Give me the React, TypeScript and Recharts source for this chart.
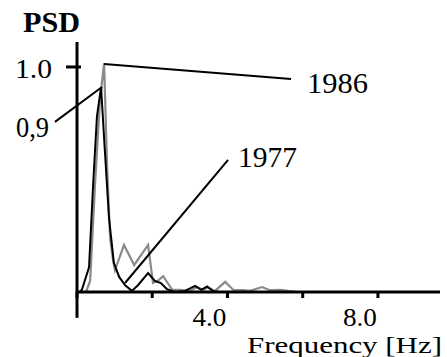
import React from 'react';
import {
  LineChart, Line, XAxis, YAxis, ReferenceLine, ReferenceDot, Label,
} from 'recharts';

// PSD spectra (frequency in Hz, normalised PSD)
const freq1986 = [0, 0.24, 0.35, 0.48, 0.61, 0.72, 0.8, 0.88, 0.96, 1.01, 1.25, 1.52, 1.89, 2.02, 2.15, 2.29, 2.53, 2.74, 3.0, 3.19, 3.35, 3.48, 3.67, 3.94, 4.15, 4.41, 4.6, 4.92, 5.13, 5.4, 5.61, 5.8];
const psd1986 = [0, 0, 0.05, 0.48, 0.85, 1.017, 0.56, 0.24, 0.14, 0.097, 0.209, 0.12, 0.209, 0.04, 0.05, 0.07, 0.01, 0.01, 0.005, 0.022, 0.01, 0.02, 0.005, 0.045, 0.01, 0.009, 0.005, 0.022, 0.008, 0.01, 0.005, 0.002];

const freq1977 = [0, 0.08, 0.13, 0.32, 0.43, 0.53, 0.64, 0.74, 0.85, 0.98, 1.12, 1.28, 1.46, 1.62, 1.89, 2.07, 2.23, 2.39, 2.61, 2.87, 3.14, 3.3, 3.46, 3.62, 3.8];
const psd1977 = [0, 0, 0.01, 0.11, 0.48, 0.78, 0.91, 0.63, 0.33, 0.13, 0.067, 0.03, 0.005, 0.03, 0.084, 0.049, 0.04, 0.013, 0, 0.005, 0.027, 0.01, 0.025, 0.003, 0];

const xTicks = [0, 2, 4, 6, 8];
const xTickLabels: Record<number, string> = { 4: '4.0', 8: '8.0' };
const yTicks = [1];
const yTickLabels: Record<number, string> = { 1: '1.0' };

const data1986 = freq1986.map((f, i) => ({ f, v: psd1986[i] }));
const data1977 = freq1977.map((f, i) => ({ f, v: psd1977[i] }));

const FONT = '"Liberation Serif", "Times New Roman", Tinos, serif';

const XTick = ({ x, payload }: any) => {
  const y = 292;
  const label = xTickLabels[payload.value];
  return (
    <g>
      <line x1={x} y1={y} x2={x} y2={y + 6} stroke="#000" strokeWidth={3} />
      {label && (
        <text x={x - 18} y={y + 34} textAnchor="middle" style={{ fontFamily: FONT }} fontSize={25}
          textLength={34} lengthAdjust="spacingAndGlyphs" fill="#000">
          {label}
        </text>
      )}
    </g>
  );
};

const YTick = ({ y, payload }: any) => {
  const x = 77;
  return (
    <g>
      <line x1={x - 11} y1={y} x2={x + 4} y2={y} stroke="#000" strokeWidth={3} />
      <text x={x - 62} y={y + 11} style={{ fontFamily: FONT }} fontSize={27}
        textLength={37} lengthAdjust="spacingAndGlyphs" fill="#000">
        {yTickLabels[payload.value]}
      </text>
    </g>
  );
};

const note = (txt: string, fs: number, w: number) => (p: any) => (
  <text x={p.cx} y={p.cy} style={{ fontFamily: FONT }} fontSize={fs} textLength={w}
    lengthAdjust="spacingAndGlyphs" fill="#000">
    {txt}
  </text>
);

const App: React.FC = () => {
  return (
    <div style={{ position: 'absolute', left: 0, top: 0, background: '#fff' }}>
      <LineChart width={447} height={357} margin={{ top: 42, right: 7, bottom: 64, left: 76 }}>
        <XAxis
          type="number" dataKey="f" domain={[0, 9.65]} ticks={xTicks} height={1}
          axisLine={{ stroke: '#000', strokeWidth: 3 }} tickLine={false} tickSize={0} tickMargin={0}
          tick={<XTick />} interval={0}
        >
          <Label content={() => (
            <text x={442} y={353} textAnchor="end"
              style={{ fontFamily: FONT }} fontSize={24} textLength={195} lengthAdjust="spacingAndGlyphs" fill="#000">
              Frequency [Hz]
            </text>
          )} />
        </XAxis>
        <YAxis
          type="number" domain={[0, 1.111]} ticks={yTicks} width={1}
          axisLine={{ stroke: '#000', strokeWidth: 3 }} tickLine={false} tickSize={0} tickMargin={0}
          tick={<YTick />} interval={0}
        >
          <Label content={() => (
            <text x={23} y={32} style={{ fontFamily: FONT }} fontSize={30}
              fontWeight="bold" textLength={57} lengthAdjust="spacingAndGlyphs" fill="#000">
              PSD
            </text>
          )} />
        </YAxis>

        {/* y axis runs on a little below the x axis */}
        <ReferenceLine segment={[{ x: 0, y: 0 }, { x: 0, y: -0.115 }]} stroke="#000" strokeWidth={3} ifOverflow="visible" />

        <Line data={data1986} dataKey="v" stroke="#8a8a8a" strokeWidth={2.2} dot={false} isAnimationActive={false} />
        <Line data={data1977} dataKey="v" stroke="#000" strokeWidth={2} dot={false} isAnimationActive={false} />

        {/* callouts */}
        <ReferenceLine segment={[{ x: 0.72, y: 1.013 }, { x: 5.69, y: 0.947 }]} stroke="#000" strokeWidth={2} ifOverflow="visible" />
        <ReferenceLine segment={[{ x: -0.585, y: 0.756 }, { x: 0.665, y: 0.911 }]} stroke="#000" strokeWidth={2} ifOverflow="visible" />
        <ReferenceLine segment={[{ x: 1.277, y: 0.04 }, { x: 4.016, y: 0.587 }]} stroke="#000" strokeWidth={2} ifOverflow="visible" />

        <ReferenceDot x={6.117} y={0.884} r={0} ifOverflow="visible" shape={note('1986', 30, 61)} />
        <ReferenceDot x={4.282} y={0.556} r={0} ifOverflow="visible" shape={note('1977', 30, 59)} />
        <ReferenceDot x={-1.622} y={0.689} r={0} ifOverflow="visible" shape={note('0,9', 29, 33)} />
      </LineChart>
    </div>
  );
};

export default App;
